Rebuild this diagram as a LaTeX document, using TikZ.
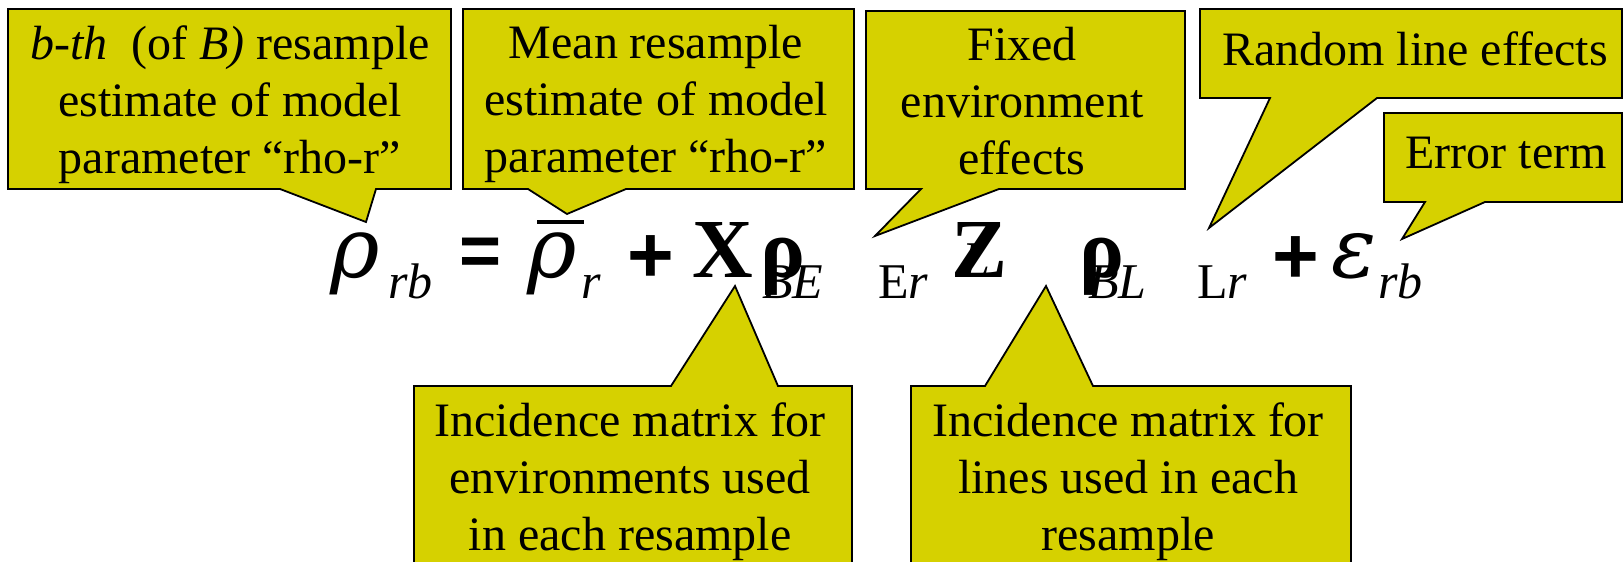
\documentclass[tikz,border=0pt]{standalone}
\usepackage{fontspec}
\setmainfont{Liberation Serif}
\newfontfamily\opfont{Liberation Sans}
\newfontfamily\greekfont{DejaVu Serif}
\definecolor{calloutfill}{RGB}{214,209,0}

\tikzset{
  bubble/.style={draw, line width=0.9pt, fill=calloutfill, line join=miter},
  note/.style={align=center, inner sep=0pt, anchor=north,
    font=\fontsize{24}{28.5}\selectfont, execute at begin node=\strut},
  bigsym/.style={inner sep=0pt, anchor=base west, font=\fontsize{42}{42}\selectfont},
  subsym/.style={inner sep=0pt, anchor=base west, font=\fontsize{25}{25}\selectfont},
  opsym/.style={inner sep=0pt, font=\opfont\bfseries\fontsize{40}{40}\selectfont},
}

\begin{document}
\begin{tikzpicture}[x=0.5pt, y=-0.5pt]
    \clip (0,0) rectangle (1623,562);

    % Callouts
    \draw[bubble] (8,9) -- (451,9) -- (451,189) -- (376,189) -- (366,222) -- (280,189) -- (8,189) -- cycle;
    \draw[bubble] (463,9) -- (854,9) -- (854,189) -- (626,189) -- (567,214) -- (528,189) -- (463,189) -- cycle;
    \draw[bubble] (866,11) -- (1185,11) -- (1185,189) -- (999,189) -- (875,236) -- (921,189) -- (866,189) -- cycle;
    \draw[bubble] (1200,9) -- (1622,9) -- (1622,98) -- (1377,98) -- (1209,228) -- (1270,98) -- (1200,98) -- cycle;
    \draw[bubble] (1384,113) -- (1622,113) -- (1622,202) -- (1485,202) -- (1402,239) -- (1425,202) -- (1384,202) -- cycle;
    \draw[bubble] (414,386) -- (671,386) -- (735,286) -- (778,386) -- (852,386) -- (852,575) -- (414,575) -- cycle;
    \draw[bubble] (911,386) -- (985,386) -- (1046,286) -- (1093,386) -- (1351,386) -- (1351,575) -- (911,575) -- cycle;

    % Callout texts
    \node (bth) [note] at (230,25) {\textit{b-th}\ \ (of \textit{B)} resample\\estimate of model\\parameter “rho-r”};
    \node (meanrho) [note] at (656,25) {Mean resample\\estimate of model\\parameter “rho-r”};
    \node (fixedenv) [note] at (1022,27) {Fixed\\environment\\effects};
    \node (randline) [note] at (1415,25) {Random line effects};
    \node (errterm) [note] at (1506,128) {Error term};
    \node (incenv) [note] at (630,402) {Incidence matrix for\\environments used\\in each resample};
    \node (incline) [note] at (1128,402) {Incidence matrix for\\lines used in each\\resample};

    % Equation
    \node (rho) [bigsym] at (330,277) {\greekfont\itshape ρ};
    \node (rhosub) [subsym] at (388,298) {\itshape rb};
    \node (eq) [opsym, font=\opfont\bfseries\fontsize{36}{36}\selectfont] at (481,257) {=};
    \node (rhobar) [bigsym] at (527,277) {\greekfont\itshape ρ};
    \draw[line width=2pt] (537,222) -- (584,222);
    \node (rhobarsub) [subsym] at (581,298) {\itshape r};
    \node (plusA) [opsym] at (651,259) {+};
    \node (matX) [bigsym] at (692,277) {\bfseries X};
    \node (betaE) [bigsym] at (760,277) {\bfseries ρ};
    \node (subBE) [subsym] at (762,298) {\itshape BE};
    \node (subEr) [subsym] at (878,298) {E\textit{r}};
    \node (matZ) [bigsym] at (951,277) {\bfseries Z};
    \node (subL) [subsym] at (962,276) {\itshape L};
    \node (betaL) [bigsym] at (1079,277) {\bfseries ρ};
    \node (subBL) [subsym] at (1088,298) {\itshape BL};
    \node (subLr) [subsym] at (1197,298) {L\textit{r}};
    \node (plusB) [opsym] at (1296,260) {+};
    \node (eps) [bigsym] at (1331,277) {\greekfont\itshape ε};
    \node (epssub) [subsym] at (1378,298) {\itshape rb};
\end{tikzpicture}
\end{document}
